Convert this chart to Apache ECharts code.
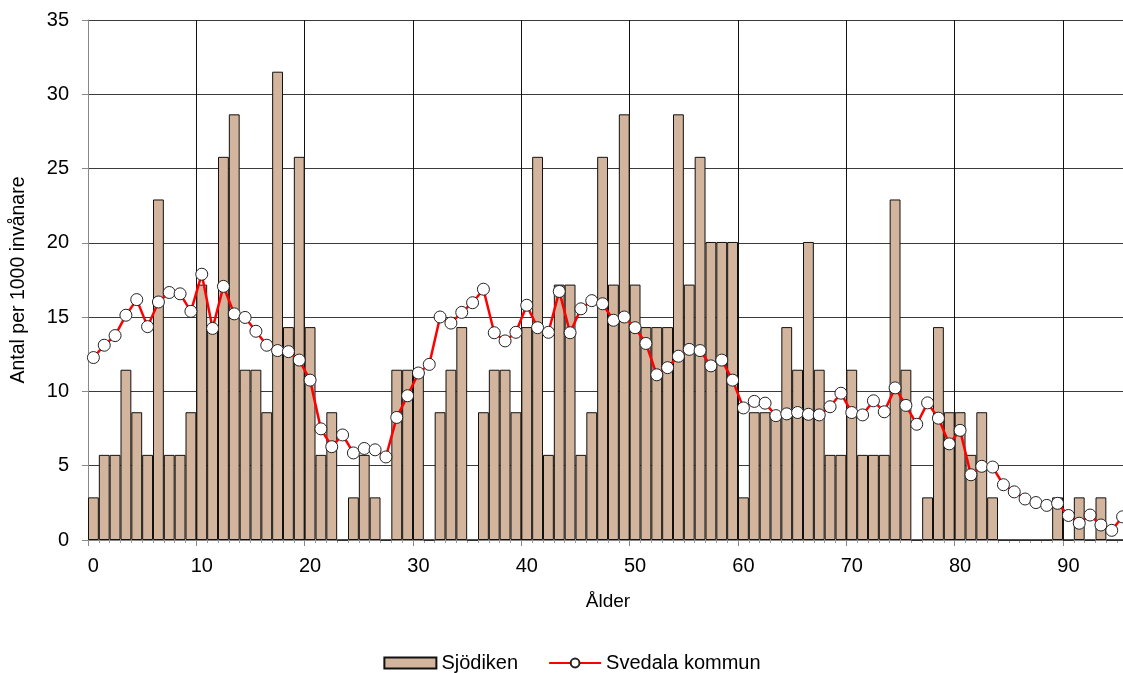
<!DOCTYPE html>
<html>
<head>
<meta charset="utf-8">
<script src="https://cdn.jsdelivr.net/npm/echarts@6/dist/echarts.min.js"></script>
<style>
  html, body { margin: 0; padding: 0; overflow: hidden; background: #fff; }
  #chart { width: 1144px; height: 673px; }
</style>
</head>
<body>
<div id="chart"></div>
<script>
// ålder 0-95
const ages = [0,1,2,3,4,5,6,7,8,9,10,11,12,13,14,15,16,17,18,19,20,21,22,23,24,25,26,27,28,29,
  30,31,32,33,34,35,36,37,38,39,40,41,42,43,44,45,46,47,48,49,50,51,52,53,54,55,56,57,58,59,
  60,61,62,63,64,65,66,67,68,69,70,71,72,73,74,75,76,77,78,79,80,81,82,83,84,85,86,87,88,89,
  90,91,92,93,94,95]

// Sjödiken, antal per 1000 invånare
const sjodiken = [
  2.87, 5.73, 5.73, 11.46, 8.60, 5.73, 22.92, 5.73, 5.73, 8.60,
  17.19, 14.33, 25.79, 28.65, 11.46, 11.46, 8.60, 31.52, 14.33, 25.79,
  14.33, 5.73, 8.60, 0, 2.87, 5.73, 2.87, 0, 11.46, 11.46,
  11.46, 0, 8.60, 11.46, 14.33, 0, 8.60, 11.46, 11.46, 8.60,
  14.33, 25.79, 5.73, 17.19, 17.19, 5.73, 8.60, 25.79, 17.19, 28.65,
  17.19, 14.33, 14.33, 14.33, 28.65, 17.19, 25.79, 20.06, 20.06, 20.06,
  2.87, 8.60, 8.60, 8.60, 14.33, 11.46, 20.06, 11.46, 5.73, 5.73,
  11.46, 5.73, 5.73, 5.73, 22.92, 11.46, 0, 2.87, 14.33, 8.60,
  8.60, 5.73, 8.60, 2.87, 0, 0, 0, 0, 0, 2.87,
  0, 2.87, 0, 2.87, 0, 0
]

// Svedala kommun
const svedala = [
  12.28, 13.11, 13.76, 15.13, 16.18, 14.36, 16.02, 16.66, 16.57, 15.39,
  17.89, 14.24, 17.07, 15.22, 14.98, 14.05, 13.11, 12.75, 12.68, 12.11,
  10.76, 7.48, 6.28, 7.07, 5.86, 6.16, 6.07, 5.59, 8.25, 9.71,
  11.24, 11.82, 15.01, 14.60, 15.32, 15.97, 16.88, 13.95, 13.40, 13.98,
  15.80, 14.29, 13.98, 16.73, 13.95, 15.56, 16.11, 15.90, 14.79, 15.01,
  14.29, 13.23, 11.12, 11.60, 12.37, 12.83, 12.75, 11.72, 12.11, 10.76,
  8.89, 9.33, 9.21, 8.37, 8.49, 8.58, 8.46, 8.42, 8.97, 9.88,
  8.58, 8.42, 9.37, 8.63, 10.24, 9.06, 7.79, 9.23, 8.20, 6.47,
  7.38, 4.39, 4.96, 4.91, 3.72, 3.24, 2.76, 2.52, 2.33, 2.47,
  1.65, 1.13, 1.68, 1.01, 0.65, 1.56
]

const xTicks = [0, 10, 20, 30, 40, 50, 60, 70, 80, 90]
const yTicks = [0, 5, 10, 15, 20, 25, 30, 35]

const fontFamily = 'Liberation Sans, Arial, sans-serif'
const chart = echarts.init(document.getElementById('chart'))

chart.setOption({
  animation: false,
  textStyle: { fontFamily },
  grid: { left: 88, right: 16, top: 20, bottom: 133 },
  legend: {
    top: 648,
    left: 'center',
    itemWidth: 52,
    itemHeight: 11,
    itemGap: 30,
    textStyle: { fontSize: 20, color: '#000', fontFamily },
    data: [
      { name: 'Sjödiken', icon: 'rect' },
      { name: 'Svedala kommun' }
    ]
  },
  xAxis: [
    {
      // kategoriaxel: staplar, punkter och etiketter mitt i åldern
      type: 'category',
      data: ages,
      boundaryGap: true,
      axisLine: { show: true, lineStyle: { color: '#888', width: 1 } },
      axisTick: { show: true, interval: 0, length: 3, lineStyle: { color: '#999' } },
      axisLabel: {
        show: true,
        fontSize: 20, color: '#000', margin: 16,
        interval: (idx, val) => xTicks.includes(Number(val))
      },
      splitLine: { show: false }
    },
    {
      // värdeaxel bara för stödlinjer mellan kategorierna
      type: 'value',
      position: 'bottom',
      min: 0,
      max: ages.length,
      interval: 10,
      name: 'Ålder',
      nameLocation: 'middle',
      nameGap: 52,
      nameTextStyle: { fontSize: 19, color: '#000', fontFamily },
      axisLine: { show: false },
      axisTick: { show: true, length: 6, lineStyle: { color: '#888' } },
      axisLabel: { show: false },
      splitLine: { show: true, lineStyle: { color: '#111', width: 1 } }
    }
  ],
  yAxis: {
    type: 'value',
    min: yTicks[0],
    max: yTicks[yTicks.length - 1],
    interval: 5,
    name: 'Antal per 1000 invånare',
    nameLocation: 'middle',
    nameRotate: 90,
    nameGap: 59,
    nameTextStyle: { fontSize: 19.5, color: '#000', fontFamily },
    axisLine: { show: true, lineStyle: { color: '#888' } },
    axisTick: { show: true, length: 6, lineStyle: { color: '#888' } },
    axisLabel: { fontSize: 20, color: '#000', margin: 19 },
    splitLine: { show: true, lineStyle: { color: '#3a3a3a', width: 1 } }
  },
  series: [
    {
      name: 'Sjödiken',
      type: 'bar',
      xAxisIndex: 0,
      data: sjodiken,
      barCategoryGap: '0%',
      itemStyle: { color: '#D2B59C', borderColor: '#111', borderWidth: 1 }
    },
    {
      name: 'Svedala kommun',
      type: 'line',
      xAxisIndex: 0,
      data: svedala,
      symbol: 'circle',
      symbolSize: 12,
      showSymbol: true,
      showAllSymbol: true,
      z: 5,
      lineStyle: { color: '#FF0000', width: 2.5 },
      itemStyle: { color: '#FFFFFF', borderColor: '#222', borderWidth: 1 }
    }
  ]
})
</script>
</body>
</html>
